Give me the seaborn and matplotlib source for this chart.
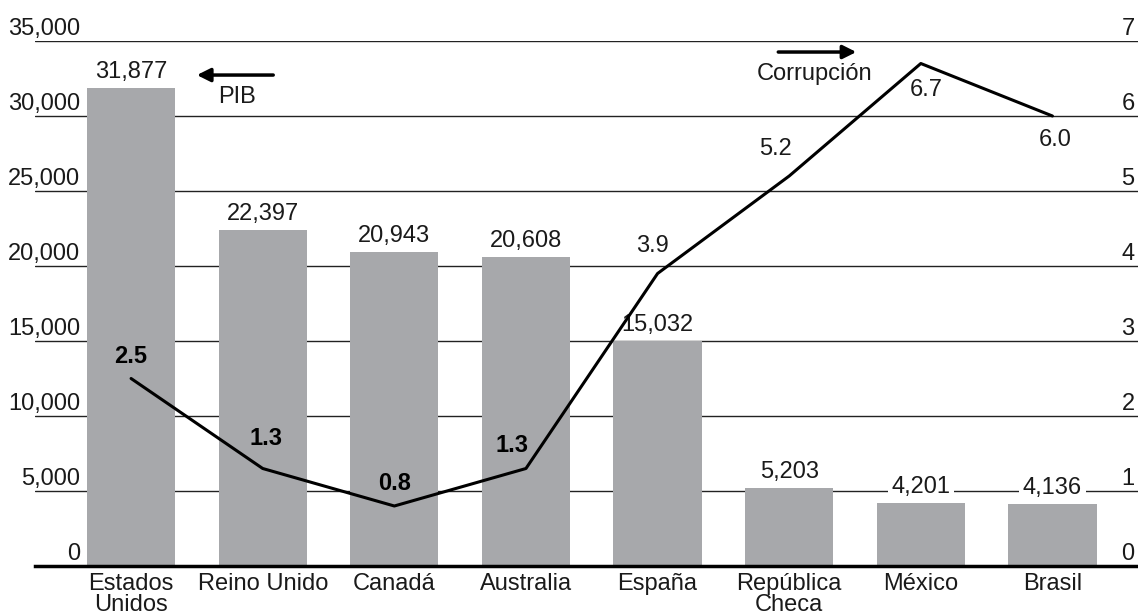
import numpy as np
import pandas as pd
import matplotlib
matplotlib.use("Agg")
import matplotlib.pyplot as plt
import matplotlib.transforms as mtransforms
import seaborn as sns

# Data
paises = ["Estados\nUnidos", "Reino Unido", "Canadá", "Australia", "España",
          "República\nCheca", "México", "Brasil"]
pib = [31877, 22397, 20943, 20608, 15032, 5203, 4201, 4136]
corrupcion = [2.5, 1.3, 0.8, 1.3, 3.9, 5.2, 6.7, 6.0]
corrupcion_negrita = [True, True, True, True, False, False, False, False]
ticks_pib = [0, 5000, 10000, 15000, 20000, 25000, 30000, 35000]
ticks_corr = [0, 1, 2, 3, 4, 5, 6, 7]

sns.set_theme(style="white")
plt.rcParams["font.family"] = ["Liberation Sans", "DejaVu Sans"]
FS = 17
BAR = "#a7a8ab"
INK = "#1a1a1a"

W, H = 1138, 615
fig = plt.figure(figsize=(W / 100, H / 100), dpi=100)
ax = fig.add_axes([35 / W, (H - 566) / H, (W - 35) / W, 525 / H])

df = pd.DataFrame({"pais": paises, "pib": pib})
sns.barplot(data=df, x="pais", y="pib", color=BAR, saturation=1, width=0.67,
            edgecolor="none", linewidth=0, ax=ax, zorder=2)
ax.set_xlim(-0.73, 7.65)
ax.set_ylim(0, 35000)
ax.set_xlabel("")
ax.set_ylabel("")
ax.set_yticks([])
ax.tick_params(axis="x", length=0, pad=5, labelsize=FS, labelcolor=INK)
for lbl in ax.get_xticklabels():
    lbl.set_linespacing(0.95)
for s in ["top", "right", "left"]:
    ax.spines[s].set_visible(False)
ax.spines["bottom"].set_linewidth(2.5)
ax.spines["bottom"].set_color("black")
ax.spines["bottom"].set_zorder(5)

# Horizontal reference lines behind the bars
for t in ticks_pib[1:]:
    ax.axhline(t, color="#222222", lw=1.0, zorder=1)

# Left scale labels sitting on top of each line
trans_l = mtransforms.blended_transform_factory(ax.transAxes, ax.transData)
off = mtransforms.offset_copy(trans_l, fig=fig, x=0, y=6, units="dots")
for t in ticks_pib:
    ax.text(0.041, t, f"{t:,}", transform=off, ha="right", va="baseline",
            fontsize=FS, color=INK, zorder=3)

# Bar value labels
for i, v in enumerate(pib):
    ax.annotate(f"{v:,}", xy=(i, v), xytext=(0, 10), textcoords="offset pixels",
                ha="center", va="baseline", fontsize=FS, color=INK,
                bbox=dict(boxstyle="square,pad=0.15", fc="white", ec="none"),
                zorder=3)

# Corruption index on the secondary scale
ax2 = ax.twinx()
sns.lineplot(x=np.arange(len(paises)), y=corrupcion, color="black", lw=2.2,
             ax=ax2, zorder=4)
ax2.set_ylim(0, 7)
ax2.set_xlim(-0.73, 7.65)
ax2.set_yticks([])
for s in ["top", "right", "left", "bottom"]:
    ax2.spines[s].set_visible(False)

trans_r = mtransforms.blended_transform_factory(ax2.transAxes, ax2.transData)
off_r = mtransforms.offset_copy(trans_r, fig=fig, x=0, y=6, units="dots")
for t in ticks_corr:
    ax2.text(0.997, t, f"{t}", transform=off_r, ha="right", va="baseline",
             fontsize=FS, color=INK)

offsets = [(0, 22), (3, 30), (0, 23), (-14, 23), (-5, 28), (-14, 27),
           (5, -26), (3, -24)]
for i, (v, b, (dx, dy)) in enumerate(zip(corrupcion, corrupcion_negrita, offsets)):
    ax2.annotate(f"{v:.1f}", xy=(i, v), xytext=(dx, dy), textcoords="offset pixels",
                 ha="center", va="center", fontsize=FS, color="black" if b else INK,
                 fontweight="bold" if b else "normal")

# Legend arrows
ax.annotate("", xy=(0.50, 32730), xytext=(1.08, 32730),
            arrowprops=dict(arrowstyle="-|>", lw=2.5, color="black",
                            mutation_scale=20, shrinkA=0, shrinkB=0))
ax.text(0.805, 31270, "PIB", ha="center", va="center", fontsize=FS, color=INK)
ax2.annotate("", xy=(5.51, 6.853), xytext=(4.917, 6.853),
             arrowprops=dict(arrowstyle="-|>", lw=2.5, color="black",
                             mutation_scale=20, shrinkA=0, shrinkB=0))
ax2.text(5.19, 6.56, "Corrupción", ha="center", va="center", fontsize=FS,
         color=INK)

fig.savefig("out.png", dpi=100)
